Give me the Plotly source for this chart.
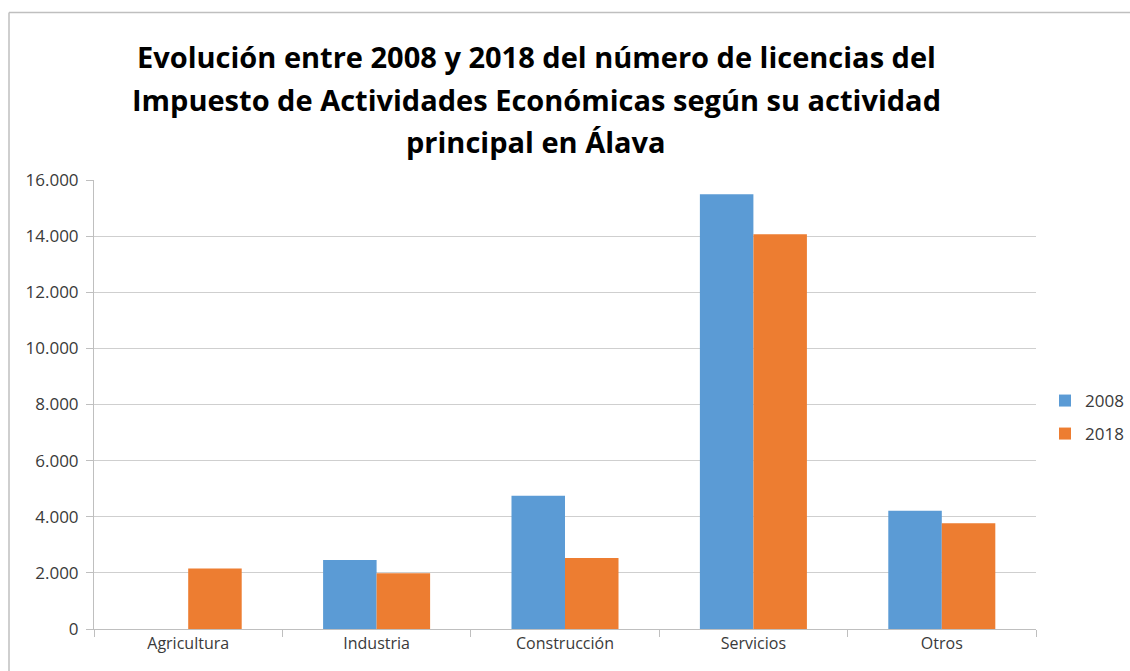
import plotly.graph_objects as go

# Licencias del IAE por actividad principal en Álava
categorias = ["Agricultura", "Industria", "Construcción", "Servicios", "Otros"]
licencias_2008 = [None, 2460, 4750, 15490, 4215]
licencias_2018 = [2160, 1990, 2530, 14070, 3770]
anios = ["2008", "2018"]
colores = ["#5B9BD5", "#ED7D31"]

titulo = [
    "Evolución entre 2008 y 2018 del número de licencias del",
    "Impuesto de Actividades Económicas según su actividad",
    "principal en Álava",
]

W, H = 1130, 671
L, R, T, B = 94, 94, 180, 42
pw, ph = W - L - R, H - T - B

def px_x(x):
    return (x - L) / pw

def px_y(y):
    return (H - B - y) / ph

FONT = "Open Sans"
TXT = "#3a3a3a"

fig = go.Figure()
for nombre, valores, color, leg in zip(anios, [licencias_2008, licencias_2018], colores, ["legend", "legend2"]):
    fig.add_trace(go.Bar(
        x=categorias, y=valores, name=nombre, marker=dict(color=color, line=dict(width=0)),
        legend=leg, showlegend=True,
    ))

annotations = []
for i, linea in enumerate(titulo):
    annotations.append(dict(
        text=f"<b>{linea}</b>", xref="paper", yref="paper",
        x=px_x(536), y=px_y(57 + i * 42), xanchor="center", yanchor="middle",
        showarrow=False, font=dict(family=FONT, size=29, color="#000000"),
    ))

leg_common = dict(xanchor="left", yanchor="middle", itemwidth=30,
                  font=dict(family=FONT, size=17, color=TXT), bgcolor="rgba(0,0,0,0)")

fig.update_layout(
    width=W, height=H,
    margin=dict(l=L, r=R, t=T, b=B, autoexpand=False),
    paper_bgcolor="white", plot_bgcolor="white",
    separators=",.",
    showlegend=True,
    barmode="group", bargap=0.432, bargroupgap=0,
    font=dict(family=FONT, size=16, color=TXT),
    annotations=annotations,
    legend=dict(x=px_x(1045), y=px_y(401), **leg_common),
    legend2=dict(x=px_x(1045), y=px_y(434), **leg_common),
    xaxis=dict(
        tickson="boundaries", ticks="outside", ticklen=7, tickcolor="#bfbfbf",
        showline=True, linecolor="#bfbfbf", linewidth=1, showgrid=False,
        tickfont=dict(family=FONT, size=16, color=TXT),
    ),
    yaxis=dict(
        range=[0, 16000], dtick=2000, tickformat=",d",
        ticks="outside", ticklen=7, tickcolor="#bfbfbf",
        showline=True, linecolor="#bfbfbf", linewidth=1,
        showgrid=True, gridcolor="#cfcfcf", gridwidth=1, zeroline=False,
        ticklabelstandoff=4,
        tickfont=dict(family=FONT, size=17, color=TXT),
    ),
    shapes=[
        dict(type="line", xref="paper", yref="paper", x0=px_x(9), x1=px_x(1140),
             y0=px_y(12.5), y1=px_y(12.5), line=dict(color="#bfbfbf", width=1.5)),
        dict(type="line", xref="paper", yref="paper", x0=px_x(9), x1=px_x(9),
             y0=px_y(12.5), y1=px_y(680), line=dict(color="#bfbfbf", width=1.5)),
    ],
)

fig.write_html("out.html")
